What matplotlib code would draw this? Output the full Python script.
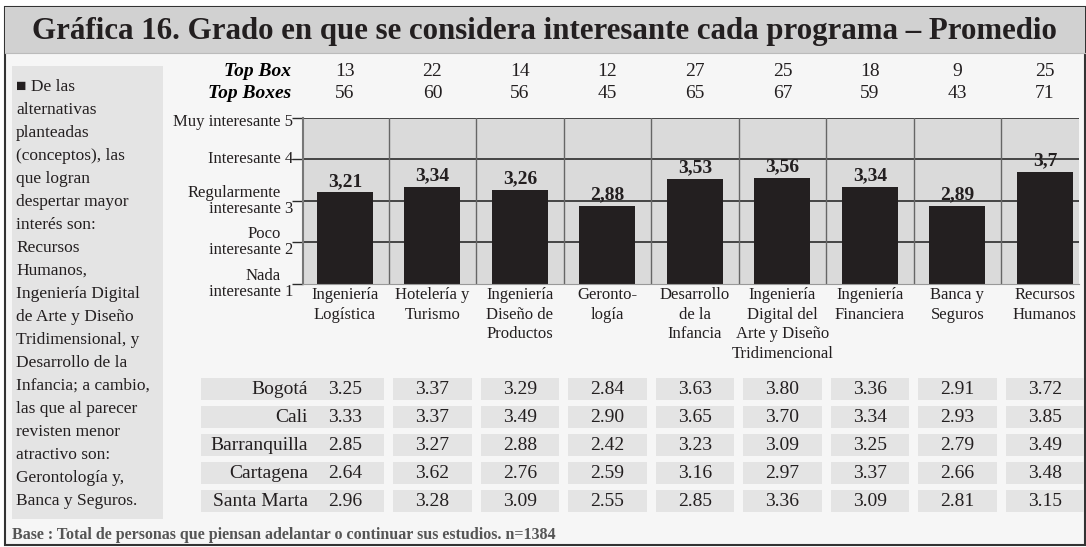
import matplotlib
matplotlib.use('Agg')
import matplotlib.pyplot as plt
import matplotlib.transforms as mtransforms
from matplotlib.patches import Rectangle

plt.rcParams['font.family'] = ['Liberation Serif', 'DejaVu Sans']

# datos
programas = ['Ingeniería\nLogística', 'Hotelería y\nTurismo', 'Ingeniería\nDiseño de\nProductos',
             'Geronto-\nlogía', 'Desarrollo\nde la\nInfancia',
             'Ingeniería\nDigital del\nArte y Diseño\nTridimencional',
             'Ingeniería\nFinanciera', 'Banca y\nSeguros', 'Recursos\nHumanos']
promedio = [3.21, 3.34, 3.26, 2.88, 3.53, 3.56, 3.34, 2.89, 3.7]
top_box = [13, 22, 14, 12, 27, 25, 18, 9, 25]
top_boxes = [56, 60, 56, 45, 65, 67, 59, 43, 71]

ciudades = ['Bogotá', 'Cali', 'Barranquilla', 'Cartagena', 'Santa Marta']
bogota = [3.25, 3.37, 3.29, 2.84, 3.63, 3.80, 3.36, 2.91, 3.72]
cali = [3.33, 3.37, 3.49, 2.90, 3.65, 3.70, 3.34, 2.93, 3.85]
barranquilla = [2.85, 3.27, 2.88, 2.42, 3.23, 3.09, 3.25, 2.79, 3.49]
cartagena = [2.64, 3.62, 2.76, 2.59, 3.16, 2.97, 3.37, 2.66, 3.48]
santa_marta = [2.96, 3.28, 3.09, 2.55, 2.85, 3.36, 3.09, 2.81, 3.15]
tabla = [bogota, cali, barranquilla, cartagena, santa_marta]

escala_sup = ['Nada', 'Poco', 'Regularmente', '', '']
escala_inf = ['interesante 1', 'interesante 2', 'interesante 3', 'Interesante 4', 'Muy interesante 5']

titulo = 'Gráfica 16. Grado en que se considera interesante cada programa – Promedio'
nota = ['■ De las', 'alternativas', 'planteadas', '(conceptos), las', 'que logran',
        'despertar mayor', 'interés son:', 'Recursos', 'Humanos,', 'Ingeniería Digital',
        'de Arte y Diseño', 'Tridimensional, y', 'Desarrollo de la', 'Infancia; a cambio,',
        'las que al parecer', 'revisten menor', 'atractivo son:', 'Gerontología y,',
        'Banca y Seguros.']
base = 'Base : Total de personas que piensan adelantar o continuar sus estudios. n=1384'

W, H = 1086, 547
fig = plt.figure(figsize=(W / 100, H / 100), dpi=100, facecolor='white')

# capa de fondo en pixeles
fondo = fig.add_axes([0, 0, 1, 1], zorder=0)
fondo.set_xlim(0, W)
fondo.set_ylim(H, 0)
fondo.axis('off')
fondo.add_patch(Rectangle((5, 7), 1080, 538, fc='#f6f6f6', ec='#333333', lw=1.5))
fondo.add_patch(Rectangle((5, 7), 1080, 46, fc='#d1d1d1', ec='none'))
fondo.plot([5, 1085], [53, 53], color='#bbbbbb', lw=0.8)
fondo.add_patch(Rectangle((12, 66), 151, 453, fc='#e4e4e4', ec='none'))
fondo.text(544, 31, titulo, ha='center', va='center', fontsize=22.2, fontweight='bold', color='#231f20')

for i, linea in enumerate(nota):
    fondo.text(16, 87 + 23 * i, linea, ha='left', va='center', fontsize=12.5, color='#231f20')

fondo.text(12, 535, base, ha='left', va='center', fontsize=11.5, fontweight='bold', color='#555555')

# grafico principal
ax = fig.add_axes([303 / W, (H - 284) / H, 776 / W, 166 / H], zorder=1)
x = list(range(len(promedio)))
ax.set_facecolor('#dadada')
ax.set_xlim(-0.48, 8.39)
ax.set_ylim(1, 5)
for yv in [2, 3, 4, 5]:
    ax.axhline(yv, color='#2b2b2b', lw=1.2, zorder=1)
for xv in [i + 0.5 for i in range(8)]:
    ax.axvline(xv, color='#666666', lw=1.0, zorder=1)
ax.bar(x, [p - 1 for p in promedio], bottom=1, width=0.64, color='#231f20', zorder=2)
for xi, p in zip(x, promedio):
    ax.annotate(str(p).replace('.', ','), (xi, p), xytext=(0, 11), textcoords='offset pixels',
                ha='center', va='center', fontsize=14, fontweight='bold', color='#231f20', zorder=3)

for lado in ['top', 'right']:
    ax.spines[lado].set_visible(False)
ax.spines['left'].set_color('#777777')
ax.spines['left'].set_linewidth(1.5)
ax.spines['bottom'].set_color('#999999')
ax.spines['bottom'].set_linewidth(0.8)
ax.set_xticks([])
ax.set_yticks([1, 2, 3, 4, 5])
ax.set_yticklabels([])
ax.tick_params(axis='y', length=8, width=1, color='#2b2b2b', direction='out')

ytr = ax.get_yaxis_transform()
for yv, sup, inf in zip([1, 2, 3, 4, 5], escala_sup, escala_inf):
    if sup:
        ax.annotate(sup, (0, yv), xycoords=ytr, xytext=(-22, 8), textcoords='offset pixels',
                    ha='right', va='center', fontsize=12, color='#231f20')
        ax.annotate(inf, (0, yv), xycoords=ytr, xytext=(-10, -8), textcoords='offset pixels',
                    ha='right', va='center', fontsize=12, color='#231f20')
    else:
        dy = -4 if yv == 5 else 0
        ax.annotate(inf, (0, yv), xycoords=ytr, xytext=(-10, dy), textcoords='offset pixels',
                    ha='right', va='center', fontsize=12, color='#231f20')

# textos alineados con las categorias
trans = mtransforms.blended_transform_factory(ax.transData, fondo.transData)

fondo.text(291, 72, 'Top Box', ha='right', va='center', fontsize=14, fontweight='bold', style='italic')
fondo.text(291, 93, 'Top Boxes', ha='right', va='center', fontsize=14, fontweight='bold', style='italic')
for xi, a, b in zip(x, top_box, top_boxes):
    fondo.text(xi, 72, str(a), transform=trans, ha='center', va='center', fontsize=14, color='#231f20')
    fondo.text(xi, 93, str(b), transform=trans, ha='center', va='center', fontsize=14, color='#231f20')

for xi, prog in zip(x, programas):
    fondo.text(xi, 287, prog, transform=trans, ha='center', va='top', fontsize=12,
               linespacing=1.3, color='#231f20')

# tabla por ciudad
for r, (ciudad, fila) in enumerate(zip(ciudades, tabla)):
    yc = 389 + 28 * r
    for xi, v in zip(x, fila):
        x0 = -1.65 if xi == 0 else xi - 0.45
        ancho = 2.1 if xi == 0 else 0.9
        fondo.add_patch(Rectangle((x0, yc - 11), ancho, 22, transform=trans, fc='#e4e4e4',
                                  ec='none', clip_on=False))
        fondo.text(xi, yc, f'{v:.2f}', transform=trans, ha='center', va='center',
                   fontsize=14, color='#231f20')
    fondo.text(308, yc, ciudad, ha='right', va='center', fontsize=14, color='#231f20')

fig.savefig('out.png', dpi=100, facecolor=fig.get_facecolor())
